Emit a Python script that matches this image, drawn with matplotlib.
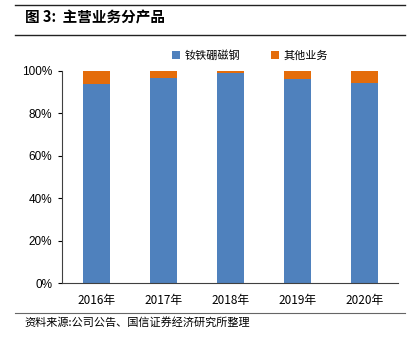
import matplotlib
matplotlib.use('Agg')
import matplotlib.pyplot as plt
import numpy as np

plt.rcParams['font.family'] = ['Noto Sans CJK SC', 'DejaVu Sans']

# dati
anni = ['2016年', '2017年', '2018年', '2019年', '2020年']
ndfeb = [0.939, 0.969, 0.992, 0.961, 0.945]
altro = [1 - v for v in ndfeb]

fig = plt.figure(figsize=(4.15, 3.41), dpi=100)
ax = fig.add_axes([0.149, 0.170, 0.810, 0.622])

x = np.arange(len(anni))
ax.bar(x, ndfeb, width=0.4, color='#4F81BD', label='钕铁硼磁钢')
ax.bar(x, altro, width=0.4, bottom=ndfeb, color='#E46C0A', label='其他业务')

ax.set_ylim(0, 1)
ax.set_xlim(-0.52, len(anni) - 0.5)
ax.set_yticks(np.arange(0, 1.01, 0.2))
ax.set_yticklabels(['%d%%' % int(round(v * 100)) for v in np.arange(0, 1.01, 0.2)],
                   family=['Liberation Sans', 'DejaVu Sans'])
ax.set_xticks(x)
ax.set_xticklabels(anni)
ax.tick_params(axis='x', length=0, labelsize=8.5, pad=8)
ax.tick_params(axis='y', length=3, labelsize=8.5, direction='out', pad=4)
for s in ['top', 'right']:
    ax.spines[s].set_visible(False)
ax.spines['left'].set_color('#404040')
ax.spines['bottom'].set_color('#404040')

ax.legend(loc='lower center', bbox_to_anchor=(0.56, 1.0), ncol=2, frameon=False,
          fontsize=8, handlelength=0.7, handleheight=0.7, columnspacing=2.8,
          handletextpad=0.4)

# titolo e linee di separazione
fig.add_artist(plt.Line2D([0.036, 0.976], [1 - 5 / 341, 1 - 5 / 341], color='#222222', lw=1))
fig.add_artist(plt.Line2D([0.036, 0.976], [1 - 35 / 341, 1 - 35 / 341], color='#222222', lw=1))
fig.text(0.06, 1 - 18 / 341, '图 3:  主营业务分产品', fontsize=10.5, fontweight='bold', va='center')
fig.add_artist(plt.Line2D([0.036, 0.976], [1 - 313 / 341, 1 - 313 / 341], color='#666666', lw=0.8))
fig.text(0.06, 1 - 322 / 341, '资料来源:公司公告、国信证券经济研究所整理', fontsize=8, va='center')

plt.savefig('out.png', dpi=100)
